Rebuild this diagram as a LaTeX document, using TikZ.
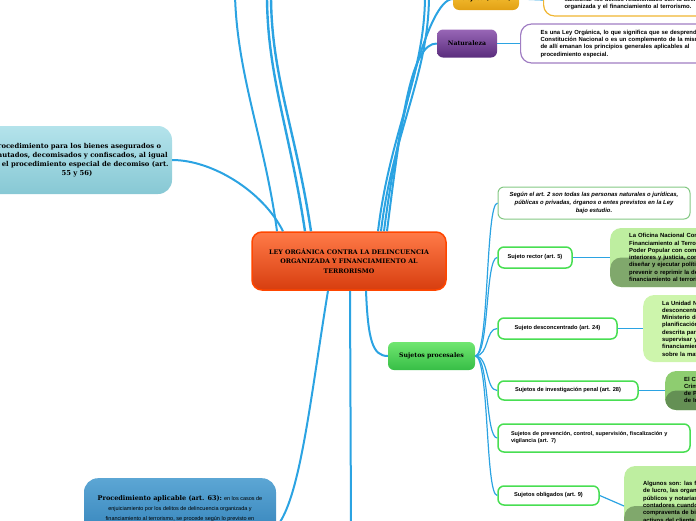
\documentclass[tikz,border=0pt]{standalone}
\usepackage{fontspec}
\setmainfont{Liberation Sans}
\newfontfamily\slabfont{DejaVu Serif}
\usetikzlibrary{positioning}

\definecolor{lineblue}{RGB}{43,163,226}
\definecolor{leyarriba}{RGB}{255,122,72}
\definecolor{leyabajo}{RGB}{215,62,15}
\definecolor{leyborde}{RGB}{255,70,0}
\definecolor{cielo1}{RGB}{180,227,235}
\definecolor{cielo2}{RGB}{135,200,212}
\definecolor{azul1}{RGB}{92,166,212}
\definecolor{azul2}{RGB}{45,125,182}
\definecolor{morado1}{RGB}{152,102,182}
\definecolor{morado2}{RGB}{90,45,125}
\definecolor{moradoborde}{RGB}{160,125,195}
\definecolor{oro1}{RGB}{250,202,62}
\definecolor{oro2}{RGB}{226,160,20}
\definecolor{oroborde}{RGB}{240,182,50}
\definecolor{verde1}{RGB}{112,230,112}
\definecolor{verde2}{RGB}{55,190,70}
\definecolor{verdeborde}{RGB}{72,222,82}
\definecolor{genborde}{RGB}{132,200,132}
\definecolor{hoja1}{RGB}{190,238,160}
\definecolor{hoja2}{RGB}{128,168,108}
\definecolor{hoja3}{RGB}{205,245,172}
\definecolor{hoja4}{RGB}{142,205,112}
\definecolor{hoja5}{RGB}{100,144,84}

\tikzset{
  tronco/.style={draw=lineblue, line width=2pt},
  rama/.style={draw=lineblue, line width=1.2pt},
  tema/.style={rounded corners=6pt, inner sep=2pt, align=center,
    font=\slabfont\bfseries\fontsize{6.2}{7.5}\selectfont},
  etiqueta/.style={draw=verdeborde, line width=1.5pt, fill=white, rounded corners=6pt,
    align=center, font=\bfseries\fontsize{5.7}{7}\selectfont},
  detalle/.style={anchor=west, rounded corners=11pt, align=left, text width=260pt,
    font=\bfseries\fontsize{5.9}{7.3}\selectfont, inner ysep=2pt},
  brillo/.style 2 args={fill=#1, path picture={\fill[#2] (path picture bounding box.west)
    rectangle (path picture bounding box.south east);}},
}

\begin{document}
\begin{tikzpicture}[x=1pt,y=-1pt]
      \useasboundingbox (0,0) rectangle (696,520);
      \clip (0,0) rectangle (696,520);

      \node[tema, top color=leyarriba, bottom color=leyabajo, draw=leyborde, line width=1.5pt,
        minimum width=194pt, minimum height=58pt, rounded corners=10pt,
        font=\slabfont\bfseries\fontsize{6.3}{9.5}\selectfont] (ley) at (349,261)
        {LEY ORGÁNICA CONTRA LA DELINCUENCIA\\ORGANIZADA Y FINANCIAMIENTO AL\\TERRORISMO};

      \node[tema, top color=cielo1, bottom color=cielo2, minimum width=190pt, minimum height=68pt,
        rounded corners=14pt, font=\slabfont\bfseries\fontsize{6.8}{9}\selectfont] (bienes) at (77,160)
        {Procedimiento para los bienes asegurados o\\incautados, decomisados y confiscados, al igual\\que el procedimiento especial de decomiso (art.\\55 y 56)};

      \node[tema, anchor=north, top color=azul1, bottom color=azul2, minimum width=192pt,
        rounded corners=14pt, inner ysep=17pt, font=\fontsize{5.5}{10}\selectfont] (aplic) at (180,478)
        {{\slabfont\bfseries\fontsize{6.5}{10}\selectfont Procedimiento aplicable (art. 63):} en los casos de\\enjuiciamiento por los delitos de delincuencia organizada y\\financiamiento al terrorismo, se procede según lo previsto en\\el Código Orgánico Procesal Penal.};

      \node[tema, top color=oro1, bottom color=oro2, minimum width=66pt, minimum height=22pt] (obj) at (486,-1) {Objeto (art. 1)};
      \node[detalle, draw=oroborde, line width=1.2pt, fill=white, minimum height=32pt, inner xsep=21pt] (objdet) at (543,0)
        {Prevenir, investigar, perseguir, tipificar y\\sancionar los delitos relacionados con la delincuencia\\organizada y el financiamiento al terrorismo.};

      \node[tema, top color=morado1, bottom color=morado2, minimum width=60pt, minimum height=28pt] (nat) at (467,43.5) {Naturaleza};
      \node[detalle, draw=moradoborde, line width=1.2pt, fill=white, minimum height=39pt, inner xsep=20pt] (natdet) at (520,43.5)
        {Es una Ley Orgánica, lo que significa que se desprende de la\\Constitución Nacional o es un complemento de la misma y\\de allí emanan los principios generales aplicables al\\procedimiento especial.};

      \node[tema, top color=verde1, bottom color=verde2, minimum width=87pt, minimum height=28pt] (proc) at (431.5,356) {Sujetos procesales};

      \node[etiqueta, draw=genborde, line width=1pt, minimum width=192pt, minimum height=32pt,
        font=\bfseries\itshape\fontsize{5.9}{8}\selectfont] (gen) at (594,203)
        {Según el art. 2 son todas las personas naturales o jurídicas,\\públicas o privadas, órganos o entes previstos en la Ley\\bajo estudio.};
      \node[etiqueta, minimum width=74pt, minimum height=21pt] (rector) at (535,257.5) {Sujeto rector (art. 5)};
      \node[etiqueta, minimum width=119pt, minimum height=21pt] (desc) at (557.5,328.5) {Sujeto desconcentrado (art. 24)};
      \node[etiqueta, minimum width=140pt, minimum height=19pt] (inv) at (568,390.5) {Sujetos de investigación penal (art. 28)};
      \node[etiqueta, minimum width=192pt, minimum height=28pt, align=left, text width=166pt, inner xsep=13pt,
        font=\bfseries\fontsize{5.5}{7}\selectfont] (prev) at (594,438)
        {Sujetos de prevención, control, supervisión, fiscalización y\\vigilancia (art. 7)};
      \node[etiqueta, minimum width=101pt, minimum height=19pt] (obl) at (548.5,495.5) {Sujetos obligados (art. 9)};

      \node[detalle, brillo={hoja1}{hoja2}, minimum height=59pt, inner xsep=19pt] (rectordet) at (610,257.5)
        {La Oficina Nacional Contra la Delincuencia Organizada y\\Financiamiento al Terrorismo, adscrita al Ministerio del\\Poder Popular con competencia en materia de relaciones\\interiores y justicia, como órgano encargado de\\diseñar y ejecutar políticas y actividades para\\prevenir o reprimir la delincuencia organizada y el\\financiamiento al terrorismo.};
      \node[detalle, fill=hoja3, minimum height=67pt, inner xsep=19pt] (descdet) at (643,328.5)
        {La Unidad Nacional de Inteligencia Financiera, órgano\\desconcentrado con autonomía funcional, adscrito al\\Ministerio del Poder Popular con competencia en materia de\\planificación y finanzas, con la función\\descrita para recabar, analizar y\\supervisar y prevenir la legitimación de capitales y el\\financiamiento al terrorismo, y dictar normas\\sobre la materia.};
      \node[detalle, brillo={hoja4}{hoja5}, minimum height=39pt, inner xsep=19pt] (invdet) at (665,390.5)
        {El Cuerpo de Investigaciones Científicas, Penales y\\Criminalísticas, los órganos de policía\\de Prevención y los cuerpos\\de Inteligencia del Estado.};
      \node[detalle, brillo={hoja1}{hoja2}, minimum height=80pt, inner xsep=19pt] (obldet) at (624,506)
        {Algunos son: las fundaciones y asociaciones sin fines\\de lucro, las organizaciones no gubernamentales, los registros\\públicos y notarías, los abogados, administradores y\\contadores cuando realicen operaciones de\\compraventa de bienes inmuebles, administración de\\activos del cliente, organización de\\estructuras jurídicas.};

      \coordinate (arribaA) at (235,-5);
      \coordinate (arribaB) at (267,-5);
      \coordinate (arribaC) at (271,-5);
      \coordinate (arribaD) at (425,-5);
      \coordinate (arribaE) at (429,-5);
      \coordinate (abajo) at (351,525);

      \draw[tronco] ([xshift=-72pt]ley.north) .. controls +(-12,-90) and +(2,80) .. (arribaA);
      \draw[tronco, line width=2.4pt] ([xshift=-44pt]ley.north) .. controls +(-15,-100) and +(0,80) .. (arribaB);
      \draw[tronco, line width=2.4pt] ([xshift=-38pt]ley.north) .. controls +(-15,-100) and +(0,80) .. (arribaC);
      \draw[tronco] ([xshift=-66pt]ley.north) .. controls +(-20,-40) and +(40,0) .. (bienes.east);
      \draw[tronco] ([xshift=29pt]ley.north) .. controls +(12,-100) and +(0,80) .. (arribaD);
      \draw[tronco] ([xshift=32pt]ley.north) .. controls +(12,-100) and +(0,80) .. (arribaE);
      \draw[tronco] ([xshift=35pt]ley.north) .. controls +(14,-110) and +(-25,0) .. (obj.west);
      \draw[tronco] ([xshift=38pt]ley.north) .. controls +(15,-120) and +(-25,0) .. (nat.west);
      \draw[tronco] ([xshift=-21pt]ley.south) .. controls +(-18,110) and +(24,-28) .. ([yshift=-14pt]aplic.east);
      \draw[tronco] ([xshift=1pt]ley.south) -- (abajo);
      \draw[tronco] ([xshift=17pt]ley.south) .. controls +(2,50) and +(-15,0) .. (proc.west);

      \draw[rama] (obj.east) -- (objdet.west);
      \draw[rama] (nat.east) -- (natdet.west);
      \foreach \hijo in {gen,rector,desc,inv,prev,obl}
        \draw[rama] (proc.east) .. controls +(14,0) and +(-12,0) .. (\hijo.west);
      \foreach \hijo in {rector,desc,inv,obl}
        \draw[rama] (\hijo.east) -- (\hijo det.west);
\end{tikzpicture}
\end{document}
